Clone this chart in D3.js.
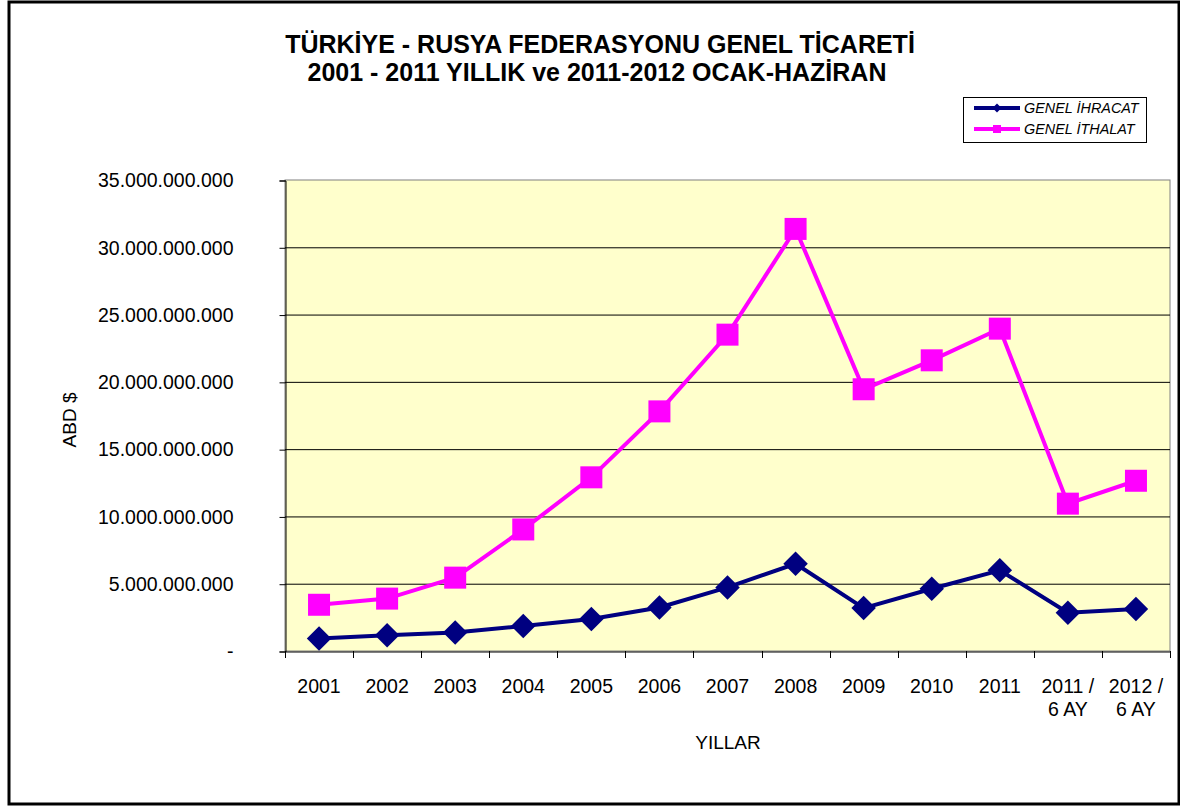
<!DOCTYPE html>
<html>
<head>
<meta charset="utf-8">
<title>Türkiye - Rusya Federasyonu Genel Ticareti</title>
<script src="https://cdn.jsdelivr.net/npm/d3@7/dist/d3.min.js"></script>
<style>
  body { margin: 0; background: #fff; }
  svg { display: block; font-family: Arial, "Liberation Sans", sans-serif; }
</style>
</head>
<body>
<script>
// kategoriler (x ekseni)
var categories = ["2001", "2002", "2003", "2004", "2005", "2006", "2007", "2008", "2009", "2010", "2011", "2011 / 6 AY", "2012 / 6 AY"];
// ihracat ve ithalat, ABD $
var ihracat = [924101000, 1172025000, 1367591000, 1859187000, 2377050000, 3237611000, 4726853000, 6483004000, 3189607000, 4628153000, 5992633000, 2850000000, 3120000000];
var ithalat = [3435671000, 3892721000, 5451315000, 9033138000, 12905620000, 17806239000, 23508494000, 31364477000, 19450086000, 21600641000, 23952914000, 10950000000, 12650000000];
var yTicks = [0, 5e9, 10e9, 15e9, 20e9, 25e9, 30e9, 35e9];

var width = 1180, height = 810;
var margin = {left: 285, right: 10, top: 180, bottom: 159};

var svg = d3.select("body").append("svg")
    .attr("width", width)
    .attr("height", height);

// dis cerceve
svg.append("rect")
    .attr("x", 9).attr("y", 2)
    .attr("width", 1170).attr("height", 802)
    .attr("fill", "#fff")
    .attr("stroke", "#000")
    .attr("stroke-width", 3);

var x = d3.scaleBand()
    .domain(categories)
    .range([margin.left, width - margin.right]);

var y = d3.scaleLinear()
    .domain([0, 35e9])
    .range([height - margin.bottom, margin.top]);

// cizim alani
svg.append("rect")
    .attr("x", margin.left).attr("y", margin.top)
    .attr("width", width - margin.right - margin.left)
    .attr("height", height - margin.bottom - margin.top)
    .attr("fill", "#FFFFCC")
    .attr("stroke", "#808080")
    .attr("stroke-width", 1);

// yatay izgara cizgileri
svg.append("g")
    .selectAll("line")
    .data(yTicks.slice(1, -1))
    .enter().append("line")
    .attr("x1", margin.left).attr("x2", width - margin.right)
    .attr("y1", function(d) { return y(d) + 0.5; })
    .attr("y2", function(d) { return y(d) + 0.5; })
    .attr("stroke", "#000")
    .attr("stroke-width", 1);

// y ekseni
function fmt(d) {
  if (d === 0) return "-";
  return d3.format(",")(d).replace(/,/g, ".");
}
var yAxis = d3.axisLeft(y)
    .tickValues(yTicks)
    .tickSize(6)
    .tickPadding(46)
    .tickFormat(fmt);
var gy = svg.append("g")
    .attr("transform", "translate(" + (margin.left + 0.5) + ",0.5)")
    .call(yAxis);
gy.select(".domain").attr("stroke", "#000");
gy.selectAll(".tick line").attr("stroke", "#000");
gy.selectAll("text").attr("font-size", 19.5).attr("fill", "#000")
    .attr("font-family", "Arial, 'Liberation Sans', sans-serif");

// x ekseni
var xAxis = d3.axisBottom(x).tickSize(0).tickFormat("");
var gx = svg.append("g")
    .attr("transform", "translate(0," + (height - margin.bottom + 0.5) + ")")
    .call(xAxis);
gx.select(".domain").attr("stroke", "#000");
// kategori sinirlarinda tik
svg.append("g")
    .selectAll("line")
    .data(categories.concat(["end"]))
    .enter().append("line")
    .attr("x1", function(d, i) { return Math.round(margin.left + i * x.step()) + 0.5; })
    .attr("x2", function(d, i) { return Math.round(margin.left + i * x.step()) + 0.5; })
    .attr("y1", height - margin.bottom)
    .attr("y2", height - margin.bottom + 7)
    .attr("stroke", "#000");

// x etiketleri (iki satir)
var xl = svg.append("g")
    .selectAll("text")
    .data(categories)
    .enter().append("text")
    .attr("x", function(d) { return x(d) + x.bandwidth() / 2; })
    .attr("y", 693)
    .attr("text-anchor", "middle")
    .attr("font-size", 19.5)
    .attr("fill", "#000");
xl.each(function(d) {
  var parts = d.split(" / ");
  var t = d3.select(this);
  if (parts.length === 1) {
    t.text(d);
  } else {
    t.append("tspan").attr("x", t.attr("x")).text(parts[0] + " /");
    t.append("tspan").attr("x", t.attr("x")).attr("dy", 23).text(parts[1]);
  }
});

// eksen basliklari
svg.append("text")
    .attr("x", 728).attr("y", 749)
    .attr("text-anchor", "middle")
    .attr("font-size", 19)
    .text("YILLAR");
svg.append("text")
    .attr("transform", "translate(76,420) rotate(-90)")
    .attr("text-anchor", "middle")
    .attr("font-size", 19)
    .text("ABD $");

// baslik
svg.append("text")
    .attr("x", 600).attr("y", 53)
    .attr("text-anchor", "middle")
    .attr("font-size", 25).attr("font-weight", "bold")
    .text("TÜRKİYE - RUSYA FEDERASYONU GENEL TİCARETİ");
svg.append("text")
    .attr("x", 597).attr("y", 81)
    .attr("text-anchor", "middle")
    .attr("font-size", 25).attr("font-weight", "bold")
    .text("2001 - 2011 YILLIK ve 2011-2012 OCAK-HAZİRAN");

var line = d3.line()
    .x(function(d, i) { return x(categories[i]) + x.bandwidth() / 2; })
    .y(function(d) { return y(d); });

// ithalat serisi
svg.append("path")
    .datum(ithalat)
    .attr("d", line)
    .attr("fill", "none")
    .attr("stroke", "#FF00FF")
    .attr("stroke-width", 4);
svg.append("g")
    .selectAll("rect")
    .data(ithalat)
    .enter().append("rect")
    .attr("x", function(d, i) { return x(categories[i]) + x.bandwidth() / 2 - 11; })
    .attr("y", function(d) { return y(d) - 11; })
    .attr("width", 22).attr("height", 22)
    .attr("fill", "#FF00FF");

// ihracat serisi
svg.append("path")
    .datum(ihracat)
    .attr("d", line)
    .attr("fill", "none")
    .attr("stroke", "#000080")
    .attr("stroke-width", 4);
var diamond = d3.symbol().type(d3.symbolSquare).size(300);
svg.append("g")
    .selectAll("path")
    .data(ihracat)
    .enter().append("path")
    .attr("d", diamond)
    .attr("transform", function(d, i) {
      return "translate(" + (x(categories[i]) + x.bandwidth() / 2) + "," + y(d) + ") rotate(45)";
    })
    .attr("fill", "#000080");

// lejant
var lg = svg.append("g");
lg.append("rect")
    .attr("x", 963.5).attr("y", 97.5)
    .attr("width", 183).attr("height", 45)
    .attr("fill", "#fff").attr("stroke", "#000");
var legendItems = [
  {name: "GENEL İHRACAT", color: "#000080", shape: "diamond"},
  {name: "GENEL İTHALAT", color: "#FF00FF", shape: "square"}
];
legendItems.forEach(function(it, i) {
  var cy = 108 + i * 21;
  lg.append("line")
      .attr("x1", 974).attr("x2", 1020)
      .attr("y1", cy).attr("y2", cy)
      .attr("stroke", it.color).attr("stroke-width", 4);
  if (it.shape === "square") {
    lg.append("rect").attr("x", 993).attr("y", cy - 4).attr("width", 8).attr("height", 8).attr("fill", it.color);
  } else {
    lg.append("path").attr("d", d3.symbol().type(d3.symbolSquare).size(40))
        .attr("transform", "translate(997," + cy + ") rotate(45)")
        .attr("fill", it.color);
  }
  lg.append("text")
      .attr("x", 1024).attr("y", cy + 5)
      .attr("font-size", 14.4).attr("font-style", "italic")
      .text(it.name);
});
</script>
</body>
</html>
